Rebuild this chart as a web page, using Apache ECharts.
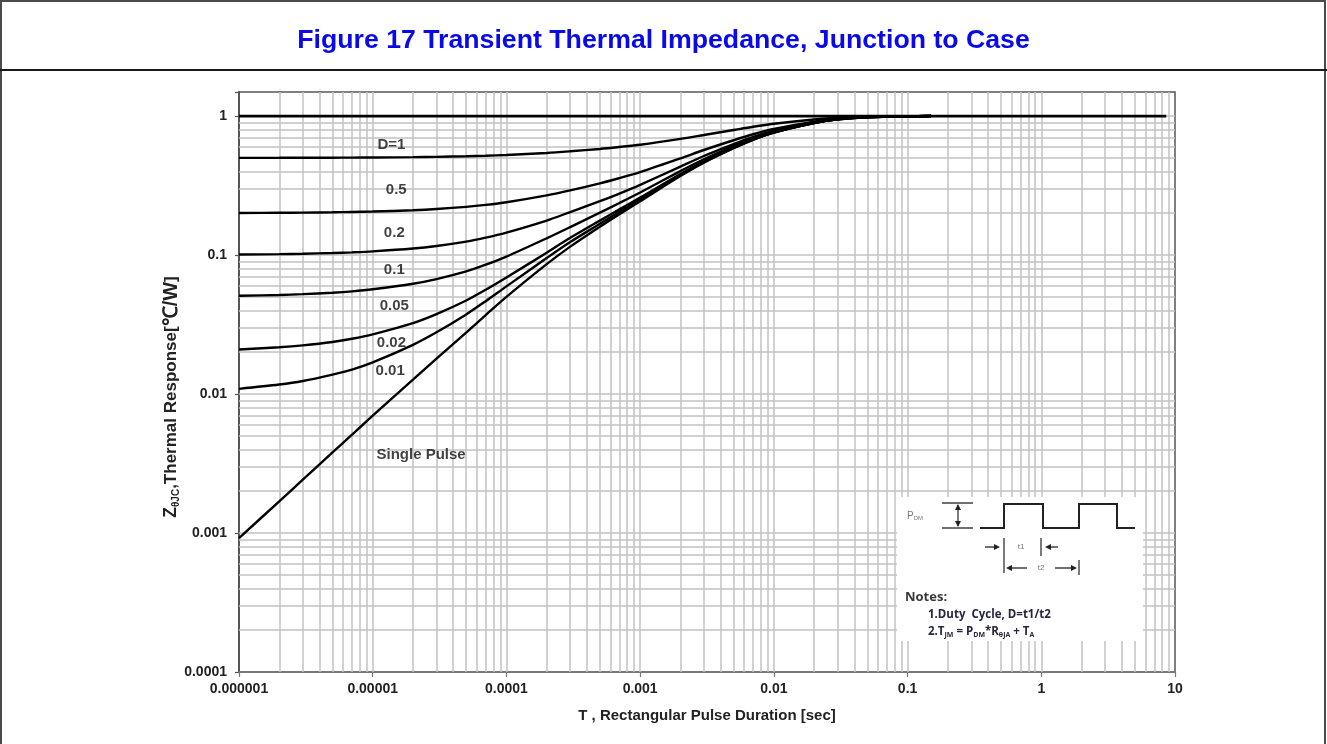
<!DOCTYPE html>
<html><head><meta charset="utf-8">
<script src="https://cdn.jsdelivr.net/npm/echarts@6/dist/echarts.min.js"></script>
<style>html,body{margin:0;padding:0;background:#fff}#c{width:1327px;height:744px}</style>
</head><body><div id="c"></div><script>
// ---------- data ----------
const titleText = 'Figure 17 Transient Thermal Impedance, Junction to Case';
const xAxisName = 'T , Rectangular Pulse Duration [sec]';
const xTickValues = [1e-6, 1e-5, 1e-4, 1e-3, 1e-2, 1e-1, 1, 10];
const xTickLabels = ['0.000001', '0.00001', '0.0001', '0.001', '0.01', '0.1', '1', '10'];
const yTickValues = [1e-4, 1e-3, 1e-2, 1e-1, 1];
const yTickLabels = ['0.0001', '0.001', '0.01', '0.1', '1'];

// pulse durations (sec) at which the curves were read
const pulseT = [1e-6, 2e-6, 3e-6, 5e-6, 7e-6, 1e-5, 2e-5, 3e-5, 5e-5, 7e-5, 1e-4, 2e-4, 3e-4, 5e-4, 7e-4,
                1e-3, 2e-3, 3e-3, 5e-3, 7e-3, 1e-2, 2e-2, 3e-2, 5e-2, 7e-2, 0.1, 0.15];
const zD050 = [0.5005, 0.5008, 0.5012, 0.5019, 0.5026, 0.5035, 0.5064, 0.509, 0.5139, 0.5185, 0.525, 0.543, 0.558, 0.580, 0.599,
               0.622, 0.685, 0.731, 0.794, 0.838, 0.88, 0.945, 0.973, 0.99, 0.995, 0.998, 1.0];
const zD020 = [0.2007, 0.2014, 0.2019, 0.2030, 0.2041, 0.2056, 0.2102, 0.2144, 0.2222, 0.2296, 0.240, 0.269, 0.292, 0.328, 0.358,
               0.395, 0.496, 0.570, 0.670, 0.740, 0.808, 0.912, 0.957, 0.985, 0.992, 0.997, 1.0];
const zD010 = [0.1008, 0.1015, 0.1022, 0.1034, 0.1046, 0.1063, 0.1114, 0.1162, 0.1249, 0.1333, 0.145, 0.177, 0.204, 0.244, 0.277,
               0.320, 0.433, 0.516, 0.628, 0.708, 0.784, 0.901, 0.951, 0.983, 0.991, 0.996, 1.0];
const zD005 = [0.0509, 0.0516, 0.0523, 0.0536, 0.0548, 0.0567, 0.0621, 0.0671, 0.0763, 0.0852, 0.0975, 0.132, 0.159, 0.202, 0.237,
               0.282, 0.402, 0.489, 0.608, 0.691, 0.772, 0.896, 0.949, 0.982, 0.99, 0.996, 1.0];
const zD002 = [0.0209, 0.0217, 0.0224, 0.0237, 0.0250, 0.0269, 0.0324, 0.0376, 0.0471, 0.0563, 0.069, 0.104, 0.133, 0.177, 0.213,
               0.259, 0.383, 0.473, 0.595, 0.682, 0.765, 0.892, 0.947, 0.981, 0.99, 0.996, 1.0];
const zD001 = [0.0109, 0.0117, 0.0124, 0.0138, 0.0150, 0.0169, 0.0226, 0.0278, 0.0374, 0.0466, 0.0595, 0.0951, 0.124, 0.168, 0.205,
               0.252, 0.376, 0.467, 0.591, 0.678, 0.762, 0.891, 0.947, 0.981, 0.99, 0.996, 1.0];
const zSingle = [0.00092, 0.00169, 0.00242, 0.0038, 0.0051, 0.0070, 0.0127, 0.018, 0.0277, 0.037, 0.050, 0.086, 0.115, 0.160, 0.197,
                 0.244, 0.37, 0.462, 0.587, 0.675, 0.76, 0.89, 0.946, 0.981, 0.99, 0.996, 1.0];
// D = 1 flat line
const d1T = [1e-6, 8.6];
const zD100 = [1, 1];

// curve annotations: text, pulse duration, Z
const labelText = ['D=1', '0.5', '0.2', '0.1', '0.05', '0.02', '0.01', 'Single Pulse'];
const labelT = [1.38e-5, 1.5e-5, 1.45e-5, 1.45e-5, 1.45e-5, 1.38e-5, 1.35e-5, 2.3e-5];
const labelZ = [0.62, 0.293, 0.144, 0.078, 0.0432, 0.0235, 0.0146, 0.00364];

// ---------- build ----------
const FONT = 'Liberation Sans, Arial, sans-serif';
const pairs = (xs, ys) => xs.map((x, i) => [x, ys[i]]);

const gridX = [], gridY = [];
for (let k = -6; k <= 0; k++) for (let m = 1; m <= 9; m++) {
  if (k === -6 && m === 1) continue;
  gridX.push({ xAxis: m * Math.pow(10, k) });
}
for (let k = -4; k <= -1; k++) for (let m = 1; m <= 9; m++) {
  if (k === -4 && m === 1) continue;
  gridY.push({ yAxis: m * Math.pow(10, k) });
}
gridY.push({ yAxis: 1 });

function tickFmt(values, labels) {
  return function (v) {
    for (let i = 0; i < values.length; i++) {
      if (Math.abs(Math.log10(v) - Math.log10(values[i])) < 1e-6) return labels[i];
    }
    return '';
  };
}

function curve(name, xs, ys, w) {
  return {
    name, type: 'line', data: pairs(xs, ys), showSymbol: false, symbol: 'none',
    smooth: 0.3, lineStyle: { color: '#000', width: w || 2.4 }, z: 3, silent: true
  };
}

const series = [
  {
    name: 'grid', type: 'line', data: [], silent: true,
    markLine: {
      silent: true, symbol: ['none', 'none'], z: 1, animation: false, precision: 12,
      label: { show: false },
      lineStyle: { color: '#c2c2c2', width: 1.5, type: 'solid' },
      emphasis: { disabled: true },
      data: gridX.concat(gridY)
    }
  },
  curve('D=1', d1T, zD100, 2.8),
  curve('0.5', pulseT, zD050),
  curve('0.2', pulseT, zD020),
  curve('0.1', pulseT, zD010),
  curve('0.05', pulseT, zD005),
  curve('0.02', pulseT, zD002),
  curve('0.01', pulseT, zD001),
  curve('Single Pulse', pulseT, zSingle),
  {
    name: 'labels', type: 'scatter', silent: true, z: 4,
    symbolSize: 1, itemStyle: { color: 'rgba(0,0,0,0)' },
    data: labelText.map((t, i) => ({ name: t, value: [labelT[i], labelZ[i]] })),
    label: {
      show: true, position: 'inside', formatter: '{b}',
      fontFamily: FONT, fontSize: 15, fontWeight: 'bold', color: '#111'
    }
  }
];

// inset (notes box) graphics
const ink = '#222';
function seg(x1, y1, x2, y2, w) {
  return { type: 'line', shape: { x1, y1, x2, y2 }, style: { stroke: ink, lineWidth: w || 1.3 }, z: 21, silent: true };
}
function arrow(x, y, dir) { // tip at x,y
  let pts;
  if (dir === 'r') pts = [[x, y], [x - 6, y - 3], [x - 6, y + 3]];
  if (dir === 'l') pts = [[x, y], [x + 6, y - 3], [x + 6, y + 3]];
  if (dir === 'u') pts = [[x, y], [x - 3, y + 6], [x + 3, y + 6]];
  if (dir === 'd') pts = [[x, y], [x - 3, y - 6], [x + 3, y - 6]];
  return { type: 'polygon', shape: { points: pts }, style: { fill: ink }, z: 21, silent: true };
}
const NOTEFONT = 'Open Sans, sans-serif';
const graphics = [
  { type: 'rect', shape: { x: 1, y: 1, width: 1324, height: 770 }, style: { fill: 'none', stroke: '#4a4a4a', lineWidth: 2 }, z: 30, silent: true },
  { type: 'line', shape: { x1: 0, y1: 70, x2: 1327, y2: 70 }, style: { stroke: '#1a1a1a', lineWidth: 2 }, z: 30, silent: true },
  { type: 'rect', shape: { x: 897, y: 497, width: 246, height: 144 }, style: { fill: '#fff' }, z: 20, silent: true },
  { type: 'text', x: 907, y: 516, z: 21, silent: true, style: { text: '{p|P}{s|DM}', verticalAlign: 'middle', rich: { p: { fontSize: 10, fontFamily: FONT, fill: '#777' }, s: { fontSize: 6, fontFamily: FONT, fill: '#777', verticalAlign: 'bottom' } } } },
  seg(942, 503, 973, 503), seg(942, 528, 973, 528), seg(958, 505, 958, 526, 1.2),
  arrow(958, 504, 'u'), arrow(958, 527, 'd'),
  { type: 'polyline', z: 21, silent: true, shape: { points: [[980, 528], [1004, 528], [1004, 504], [1043, 504], [1043, 528], [1079, 528], [1079, 504], [1117, 504], [1117, 528], [1135, 528]] }, style: { stroke: ink, lineWidth: 2, fill: 'none' } },
  seg(985, 547, 996, 547), arrow(1000, 547, 'r'),
  seg(1004, 538, 1004, 573, 1.2), seg(1041, 538, 1041, 556, 1.2),
  arrow(1045, 547, 'l'), seg(1049, 547, 1058, 547),
  { type: 'text', x: 1021, y: 547, z: 21, silent: true, style: { text: 't1', fontSize: 8, fontFamily: FONT, fill: '#777', align: 'center', verticalAlign: 'middle' } },
  arrow(1006, 568, 'l'), seg(1010, 568, 1027, 568),
  { type: 'text', x: 1041, y: 568, z: 21, silent: true, style: { text: 't2', fontSize: 8, fontFamily: FONT, fill: '#777', align: 'center', verticalAlign: 'middle' } },
  seg(1055, 568, 1072, 568), arrow(1077, 568, 'r'), seg(1079, 560, 1079, 575, 1.2),
  { type: 'text', x: 905, y: 597, z: 21, silent: true, style: { text: 'Notes:', fontSize: 13, fontWeight: 'bold', fontFamily: NOTEFONT, fill: '#3a3a3a', verticalAlign: 'middle' } },
  { type: 'text', x: 928, y: 615, z: 21, silent: true, style: { text: '1.Duty  Cycle, D=t1/t2', fontSize: 11.5, fontWeight: 'bold', fontFamily: NOTEFONT, fill: '#262640', verticalAlign: 'middle' } },
  { type: 'text', x: 928, y: 632, z: 21, silent: true, style: {
      text: '{n|2.T}{s|JM}{n| = P}{s|DM}{n|*R}{s|θJA}{n| + T}{s|A}', verticalAlign: 'middle',
      rich: {
        n: { fontSize: 11.5, fontWeight: 'bold', fontFamily: NOTEFONT, fill: '#262640' },
        s: { fontSize: 7, fontWeight: 'bold', fontFamily: NOTEFONT, fill: '#262640', verticalAlign: 'bottom' }
      } } }
];

const option = {
  animation: false,
  backgroundColor: '#fff',
  title: {
    text: titleText, left: 'center', top: 22,
    textStyle: { color: '#0a0ae8', fontSize: 26.7, fontWeight: 'bold', fontFamily: FONT }
  },
  grid: { left: 239, right: 152, top: 92, bottom: 72, show: true, borderColor: '#555', borderWidth: 1.5 },
  xAxis: {
    type: 'log', logBase: 10, min: 1e-6, max: 10,
    name: xAxisName, nameLocation: 'middle', nameGap: 36,
    nameTextStyle: { fontFamily: FONT, fontSize: 15, fontWeight: 'bold', color: '#222' },
    axisLine: { show: true, lineStyle: { color: '#777', width: 1.5 } },
    axisTick: { show: true, length: 5, lineStyle: { color: '#777', width: 1.2 } },
    axisLabel: { formatter: tickFmt(xTickValues, xTickLabels), fontFamily: FONT, fontSize: 14, fontWeight: 'bold', color: '#222', margin: 10 },
    splitLine: { show: false }, minorTick: { show: false }, minorSplitLine: { show: false }
  },
  yAxis: {
    type: 'log', logBase: 10, min: 1e-4, max: 1.49,
    name: '{z|Z}{s|θJC}{t|,Thermal Response[}{u|℃/W}{t|]}',
    nameLocation: 'middle', nameGap: 58, nameMoveOverlap: false,
    nameTextStyle: {
      padding: [0, 30, 0, 0],
      rich: {
        z: { fontFamily: FONT, fontSize: 17.5, fontWeight: 'bold', color: '#222' },
        s: { fontFamily: FONT, fontSize: 10, fontWeight: 'bold', color: '#222', verticalAlign: 'bottom' },
        t: { fontFamily: FONT, fontSize: 17, fontWeight: 'bold', color: '#222' },
        u: { fontFamily: FONT, fontSize: 20, fontWeight: 'bold', color: '#222' }
      }
    },
    axisLine: { show: true, lineStyle: { color: '#555', width: 2 } },
    axisTick: { show: true, length: 4, lineStyle: { color: '#555', width: 1.2 } },
    axisLabel: { formatter: tickFmt(yTickValues, yTickLabels), fontFamily: FONT, fontSize: 14, fontWeight: 'bold', color: '#222', margin: 12 },
    splitLine: { show: false }, minorTick: { show: false }, minorSplitLine: { show: false }
  },
  series,
  graphic: { elements: graphics }
};
const chart = echarts.init(document.getElementById('c'), null, { renderer: 'canvas' });
chart.setOption(option);
</script></body></html>
